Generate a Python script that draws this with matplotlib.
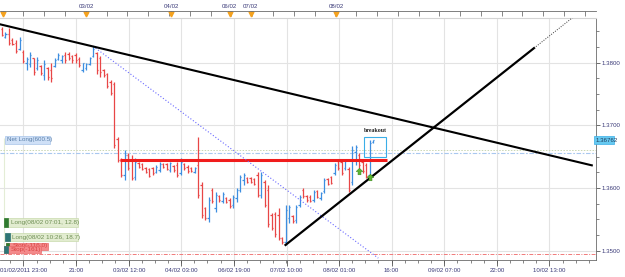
import numpy as np
import matplotlib
matplotlib.use('Agg')
import matplotlib.pyplot as plt
from matplotlib.patches import Rectangle
from matplotlib.path import Path

plt.rcParams['font.family'] = ['Liberation Sans', 'DejaVu Sans']
plt.rcParams['font.size'] = 4.4

# EUR/USD style bars, one per slot
highs = [1.3856, 1.3848, 1.3855, 1.3839, 1.3836, 1.3840, 1.3820, 1.3809, 1.3817, 1.3807,
         1.3808, 1.3796, 1.3804, 1.3793, 1.3800, 1.3807, 1.3815, 1.3812, 1.3817, 1.3817,
         1.3812, 1.3815, 1.3808, 1.3800, 1.3799, 1.3808, 1.3826, 1.3817, 1.3810, 1.3789,
         1.3783, 1.3772, 1.3769, 1.3681, 1.3648, 1.3660, 1.3656, 1.3652, 1.3648, 1.3641,
         1.3640, 1.3633, 1.3632, 1.3633, 1.3636, 1.3641, 1.3640, 1.3640, 1.3641, 1.3636,
         1.3641, 1.3648, 1.3640, 1.3636, 1.3633, 1.3633, 1.3681, 1.3609, 1.3570, 1.3586,
         1.3600, 1.3593, 1.3589, 1.3593, 1.3586, 1.3584, 1.3589, 1.3600, 1.3620, 1.3624,
         1.3617, 1.3617, 1.3616, 1.3625, 1.3625, 1.3612, 1.3605, 1.3560, 1.3562, 1.3568,
         1.3522, 1.3573, 1.3573, 1.3557, 1.3573, 1.3589, 1.3600, 1.3589, 1.3589, 1.3597,
         1.3597, 1.3593, 1.3616, 1.3616, 1.3619, 1.3640, 1.3646, 1.3644, 1.3644, 1.3633,
         1.3667, 1.3668, 1.3656, 1.3644, 1.3640, 1.3676, 1.3676]
lows = [1.3842, 1.3839, 1.3828, 1.3828, 1.3815, 1.3820, 1.3800, 1.3788, 1.3793, 1.3780,
        1.3788, 1.3780, 1.3772, 1.3772, 1.3769, 1.3793, 1.3804, 1.3799, 1.3799, 1.3804,
        1.3800, 1.3800, 1.3793, 1.3785, 1.3788, 1.3796, 1.3808, 1.3782, 1.3777, 1.3777,
        1.3759, 1.3748, 1.3664, 1.3641, 1.3617, 1.3612, 1.3628, 1.3612, 1.3612, 1.3632,
        1.3628, 1.3624, 1.3617, 1.3620, 1.3624, 1.3625, 1.3632, 1.3628, 1.3625, 1.3625,
        1.3617, 1.3620, 1.3628, 1.3624, 1.3625, 1.3624, 1.3584, 1.3552, 1.3549, 1.3546,
        1.3576, 1.3562, 1.3578, 1.3576, 1.3576, 1.3568, 1.3568, 1.3578, 1.3593, 1.3605,
        1.3608, 1.3608, 1.3605, 1.3586, 1.3584, 1.3570, 1.3538, 1.3533, 1.3522, 1.3517,
        1.3511, 1.3509, 1.3544, 1.3544, 1.3544, 1.3570, 1.3584, 1.3578, 1.3578, 1.3578,
        1.3584, 1.3581, 1.3592, 1.3605, 1.3606, 1.3620, 1.3628, 1.3620, 1.3628, 1.3593,
        1.3605, 1.3636, 1.3632, 1.3624, 1.3616, 1.3617, 1.3671]
opens = [1.3853, 1.3840, 1.3846, 1.3836, 1.3831, 1.3822, 1.3817, 1.3800, 1.3798, 1.3807,
         1.3791, 1.3794, 1.3780, 1.3791, 1.3788, 1.3794, 1.3806, 1.3804, 1.3812, 1.3814,
         1.3810, 1.3812, 1.3805, 1.3788, 1.3791, 1.3797, 1.3810, 1.3815, 1.3807, 1.3788,
         1.3781, 1.3769, 1.3766, 1.3678, 1.3644, 1.3620, 1.3652, 1.3644, 1.3617, 1.3640,
         1.3638, 1.3632, 1.3630, 1.3632, 1.3625, 1.3628, 1.3638, 1.3638, 1.3628, 1.3635,
         1.3636, 1.3624, 1.3638, 1.3633, 1.3632, 1.3625, 1.3636, 1.3605, 1.3568, 1.3552,
         1.3597, 1.3568, 1.3587, 1.3579, 1.3584, 1.3581, 1.3573, 1.3584, 1.3597, 1.3612,
         1.3616, 1.3616, 1.3614, 1.3620, 1.3589, 1.3609, 1.3597, 1.3557, 1.3559, 1.3557,
         1.3520, 1.3514, 1.3552, 1.3555, 1.3549, 1.3573, 1.3597, 1.3587, 1.3586, 1.3581,
         1.3595, 1.3584, 1.3595, 1.3614, 1.3617, 1.3624, 1.3643, 1.3641, 1.3632, 1.3630,
         1.3610, 1.3657, 1.3652, 1.3641, 1.3636, 1.3620, 1.3673]
closes = [1.3844, 1.3846, 1.3831, 1.3830, 1.3818, 1.3836, 1.3802, 1.3805, 1.3812, 1.3785,
          1.3804, 1.3783, 1.3797, 1.3777, 1.3775, 1.3804, 1.3812, 1.3810, 1.3804, 1.3807,
          1.3804, 1.3804, 1.3796, 1.3799, 1.3797, 1.3807, 1.3822, 1.3788, 1.3785, 1.3780,
          1.3762, 1.3751, 1.3668, 1.3644, 1.3620, 1.3652, 1.3632, 1.3616, 1.3641, 1.3633,
          1.3630, 1.3625, 1.3619, 1.3624, 1.3633, 1.3638, 1.3633, 1.3630, 1.3640, 1.3628,
          1.3620, 1.3641, 1.3632, 1.3627, 1.3627, 1.3632, 1.3589, 1.3557, 1.3552, 1.3581,
          1.3579, 1.3589, 1.3581, 1.3591, 1.3578, 1.3571, 1.3586, 1.3597, 1.3617, 1.3620,
          1.3609, 1.3610, 1.3606, 1.3589, 1.3620, 1.3573, 1.3543, 1.3536, 1.3527, 1.3520,
          1.3514, 1.3565, 1.3570, 1.3547, 1.3570, 1.3586, 1.3587, 1.3581, 1.3579, 1.3593,
          1.3586, 1.3592, 1.3612, 1.3606, 1.3608, 1.3636, 1.3632, 1.3624, 1.3643, 1.3597,
          1.3660, 1.3665, 1.3636, 1.3627, 1.3619, 1.3671, 1.36762]

bottom_labels = ['01/02/2011 23:00', '21:00', '03/02 12:00', '04/02 03:00', '06/02 19:00',
                 '07/02 10:00', '08/02 01:00', '16:00', '09/02 07:00', '22:00', '10/02 13:00']
bottom_label_bars = [6.1, 21.1, 36.2, 51.2, 66.2, 81.3, 96.3, 111.3, 126.3, 141.4, 156.4]
top_labels = ['03/02', '04/02', '06/02', '07/02', '08/02']
top_label_bars = [24, 48.3, 65.1, 71.1, 95.4]
top_marker_bars = [0.3, 24, 48.3, 65.1, 71.1, 95.4]
price_levels = [1.35, 1.36, 1.37, 1.38]

# drawn studies
down_trend_x, down_trend_y = [-0.6, 168.5], [1.3861, 1.3636]
up_trend_x, up_trend_y = [81, 152], [1.3509, 1.3823]
up_ext_x, up_ext_y = [152, 164], [1.3823, 1.3876]
fib_x, fib_y = [26, 107.5], [1.3826, 1.3488]
resist_level, resist_from, resist_to = 1.3644, 33.7, 110
net_long_level, avg_level, stop_level = 1.3656, 1.3661, 1.3495
entry_bars, entry_prices = [102, 105.1], [1.3627, 1.3617]
box_x, box_y = [103.4, 109.7], [1.3649, 1.3681]
last_price = 1.36762

up_col, down_col = '#3d8ee0', '#e84646'
axis_text = '#3a3a78'
W, H = 625, 277
XLIM = (-0.571, 169.7)
YLIM = (1.3485, 1.3871)

fig = plt.figure(figsize=(W / 100, H / 100), dpi=100)
ax = fig.add_axes([0, 1 - 260 / H, 596 / W, 242 / H])

# bars
for i in range(len(highs)):
    c = up_col if closes[i] >= opens[i] else down_col
    ax.vlines(i, lows[i], highs[i], color=c, lw=0.9, zorder=3)
    ax.hlines(opens[i], i - 0.4, i, color=c, lw=0.9, zorder=3)
    ax.hlines(closes[i], i, i + 0.4, color=c, lw=0.9, zorder=3)

# levels
ax.axhline(avg_level, color='#c9d6b4', lw=0.7, ls=(0, (1.5, 1.5)), zorder=2)
ax.axhline(net_long_level, color='#a9c8ef', lw=0.8, ls=(0, (4, 1.5, 1.5, 1.5)), zorder=2)
ax.axhline(stop_level, color='#f07a7a', lw=0.7, ls=(0, (4, 1.5, 1, 1.5)), zorder=2)
ax.vlines(0.6, stop_level, 1.3680, color='#e4edd6', lw=0.8, zorder=1)
ax.hlines(resist_level, resist_from, resist_to, color='#f01c1c', lw=2.2, zorder=4)

# trend lines
ax.plot(down_trend_x, down_trend_y, color='black', lw=1.5, zorder=5)
ax.plot(up_trend_x, up_trend_y, color='black', lw=1.6, zorder=5)
ax.plot(up_ext_x, up_ext_y, color='#333333', lw=0.7, ls=(0, (1, 1.5)), zorder=5)
ax.plot(fib_x, fib_y, color='#6a6aff', lw=0.8, ls=(0, (1, 1.8)), zorder=4)

# breakout box
ax.add_patch(Rectangle((box_x[0], box_y[0]), box_x[1] - box_x[0], box_y[1] - box_y[0],
                       fill=False, ec='#3aaee8', lw=0.8, zorder=5))
ax.text(sum(box_x) / 2, box_y[1] + 0.0007, 'breakout', ha='center', va='bottom',
        fontsize=4.2, fontweight='bold', family='Liberation Serif', color='#222222')

# entry arrows
arrow = Path([(0, 1), (-1, 0), (-0.45, 0), (-0.45, -1), (0.45, -1), (0.45, 0), (1, 0), (0, 1)])
ax.scatter(entry_bars, entry_prices, marker=arrow, s=22, c='#5cb531', edgecolors='#3d8a1e',
           linewidths=0.4, zorder=6)

# axes styling
ax.set_xticks(bottom_label_bars)
ax.set_xticklabels(bottom_labels, color=axis_text)
ax.set_xticks(np.arange(bottom_label_bars[0] - 15.03 / 4, 169.5, 15.03 / 4), minor=True)
ax.tick_params(axis='x', which='major', length=4, width=0.6, color='#555555', pad=1.5)
ax.tick_params(axis='x', which='minor', length=2.5, width=0.5, color='#555555')
ax.yaxis.tick_right()
ax.set_yticks(price_levels)
ax.set_yticklabels(['%.4f' % v for v in price_levels], color=axis_text)
ax.set_yticks(np.arange(1.35, 1.387, 0.0025), minor=True)
ax.tick_params(axis='y', which='major', length=3, width=0.6, color='#555555', pad=1.2)
ax.tick_params(axis='y', which='minor', length=2, width=0.5, color='#555555')
ax.grid(True, which='major', color='#e3e3e3', lw=0.8, zorder=0)
ax.spines['left'].set_visible(False)
ax.spines['top'].set_color('#d4d4d4')
for s in ('right', 'bottom'):
    ax.spines[s].set_color('#6a6a6a')
    ax.spines[s].set_linewidth(0.6)
ax.set_xlim(XLIM)
ax.set_ylim(YLIM)

# top date strip
ax2 = fig.add_axes([0, 1 - 18 / H, 596 / W, 7 / H])
ax2.patch.set_alpha(0)
ax2.yaxis.set_visible(False)
for s in ('left', 'right', 'bottom'):
    ax2.spines[s].set_visible(False)
ax2.spines['top'].set_color('#6a6a6a')
ax2.spines['top'].set_linewidth(0.6)
ax2.xaxis.tick_top()
ax2.set_xticks(top_label_bars)
ax2.set_xticklabels(top_labels, color=axis_text)
ax2.set_xticks(np.arange(0.2, 169.5, 5.94), minor=True)
ax2.tick_params(axis='x', which='both', direction='in', length=3.5, width=0.5,
                color='#555555', pad=1.5)
ax2.plot(top_marker_bars, [0.55] * len(top_marker_bars), ls='none', marker='v', ms=3.5,
         color='#f5a21e', clip_on=False)
ax2.set_xlim(XLIM)
ax2.set_ylim(0, 1)


def px_rect(x0, y0, x1, y1, fc, ec, z=5):
    fig.add_artist(Rectangle((x0 / W, 1 - y1 / H), (x1 - x0) / W, (y1 - y0) / H,
                             transform=fig.transFigure, fc=fc, ec=ec, lw=0.5, zorder=z))


def px_text(x, y, s, color, z=6, **kw):
    fig.text(x / W, 1 - y / H, s, color=color, va='center', ha='left', zorder=z, **kw)


# order labels
px_rect(5, 136, 50, 144, '#cfe0f7', '#a9c5ea')
px_text(7, 140, 'Net Long(600.5)', '#5a7fa8', fontsize=4.5)

px_rect(4, 218, 78, 227, '#e2ecd0', '#c9dbad')
px_rect(4, 218, 8, 227, '#2f7a2f', '#2f7a2f')
px_text(11, 222.5, 'Long(08/02 07:01, 12.8)', '#6f8f55', fontsize=4.6)

px_rect(5, 233, 78, 241, '#e2ecd0', '#c9dbad')
px_rect(5, 233, 10, 241, '#2d7575', '#2d7575')
px_text(12, 237, 'Long(08/02 10:26, 18.7)', '#6f8f55', fontsize=4.6)

px_rect(6, 243, 48, 250, '#f4898a', '#e86a6a', z=7)
px_rect(6, 243, 9, 250, '#2f7a2f', '#2f7a2f', z=7)
px_text(13, 246, 'Stop(-116.0)', '#d84444', z=8, fontsize=4.6)

px_rect(4, 246, 41, 253, '#f4898a', '#e86a6a', z=9)
px_rect(4, 246, 8, 253, '#2d7575', '#2d7575', z=9)
px_text(11, 249.5, 'Stop(-161)', '#d84444', z=10, fontsize=4.6)

# last price tag
px_rect(594, 136, 614, 144, '#66c9f0', '#3aaee8', z=7)
px_text(595.5, 140, '%.5f' % last_price, '#1d3a5c', z=8, fontsize=4.4)

fig.savefig('out.png', dpi=100)
